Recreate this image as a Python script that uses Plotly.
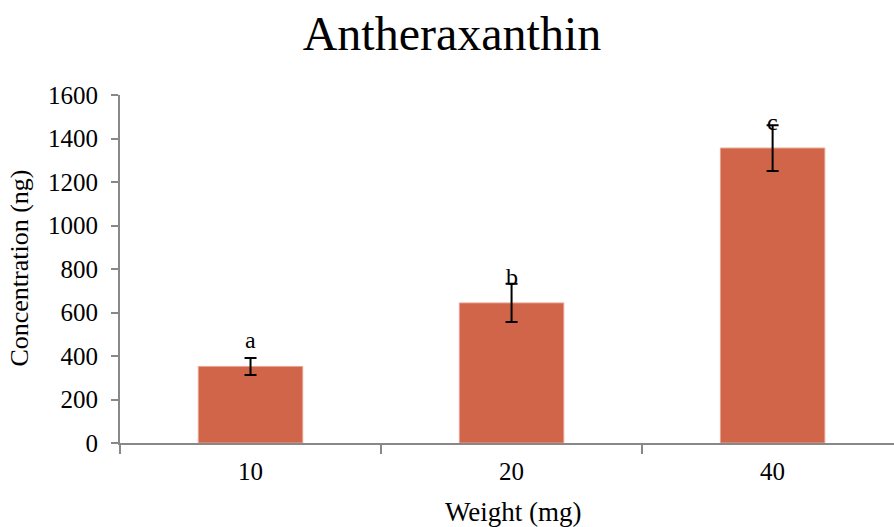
import plotly.graph_objects as go

categories = ["10", "20", "40"]
values = [352, 644, 1356]
errors = [39, 88, 105]
letters = ["a", "b", "c"]

FONT = "Liberation Serif"
fig = go.Figure()
fig.add_trace(go.Bar(
    x=categories, y=values,
    marker=dict(color="#D0654A", line=dict(color="#E9A28E", width=1)),
    error_y=dict(type="data", array=errors, visible=True, color="black", thickness=2, width=6),
    showlegend=False,
))
for i, (v, l) in enumerate(zip(values, letters)):
    fig.add_annotation(x=i, y=v, text=l, showarrow=False, yshift=26,
                       font=dict(family=FONT, size=24, color="black"))

# axis titles as annotations for precise placement
fig.add_annotation(xref="paper", yref="paper", x=-0.1292, y=0.504, text="Concentration (ng)",
                   textangle=-90, showarrow=False, xanchor="center", yanchor="middle",
                   font=dict(family=FONT, size=26, color="black"))
fig.add_annotation(xref="paper", yref="paper", x=0.509, y=-0.198, text="Weight (mg)",
                   showarrow=False, xanchor="center", yanchor="middle",
                   font=dict(family=FONT, size=27, color="black"))

fig.update_layout(
    width=894, height=527,
    margin=dict(l=120, r=0, t=95, b=84),
    paper_bgcolor="white", plot_bgcolor="white",
    bargap=0.6,
    title=dict(text="Antheraxanthin", x=0.5056, xanchor="center", y=0.937, yanchor="middle",
               font=dict(family=FONT, size=48, color="black")),
    font=dict(family=FONT, color="black"),
)
fig.update_xaxes(
    type="category", range=[-0.5, 2.465], showline=True, linecolor="#888888", linewidth=2,
    ticks="outside", tickson="boundaries", ticklen=9, tickcolor="#888888", tickwidth=1.5,
    tickfont=dict(family=FONT, size=25, color="black"), tickangle=0, ticklabelstandoff=5,
    showgrid=False,
)
fig.update_yaxes(
    range=[0, 1600], dtick=200, showline=True, linecolor="#888888", linewidth=2,
    ticks="outside", ticklen=7, tickcolor="#888888", tickwidth=1.5,
    tickfont=dict(family=FONT, size=25, color="black"), ticklabelstandoff=8,
    showgrid=False, zeroline=False,
)
fig.write_html("out.html")
